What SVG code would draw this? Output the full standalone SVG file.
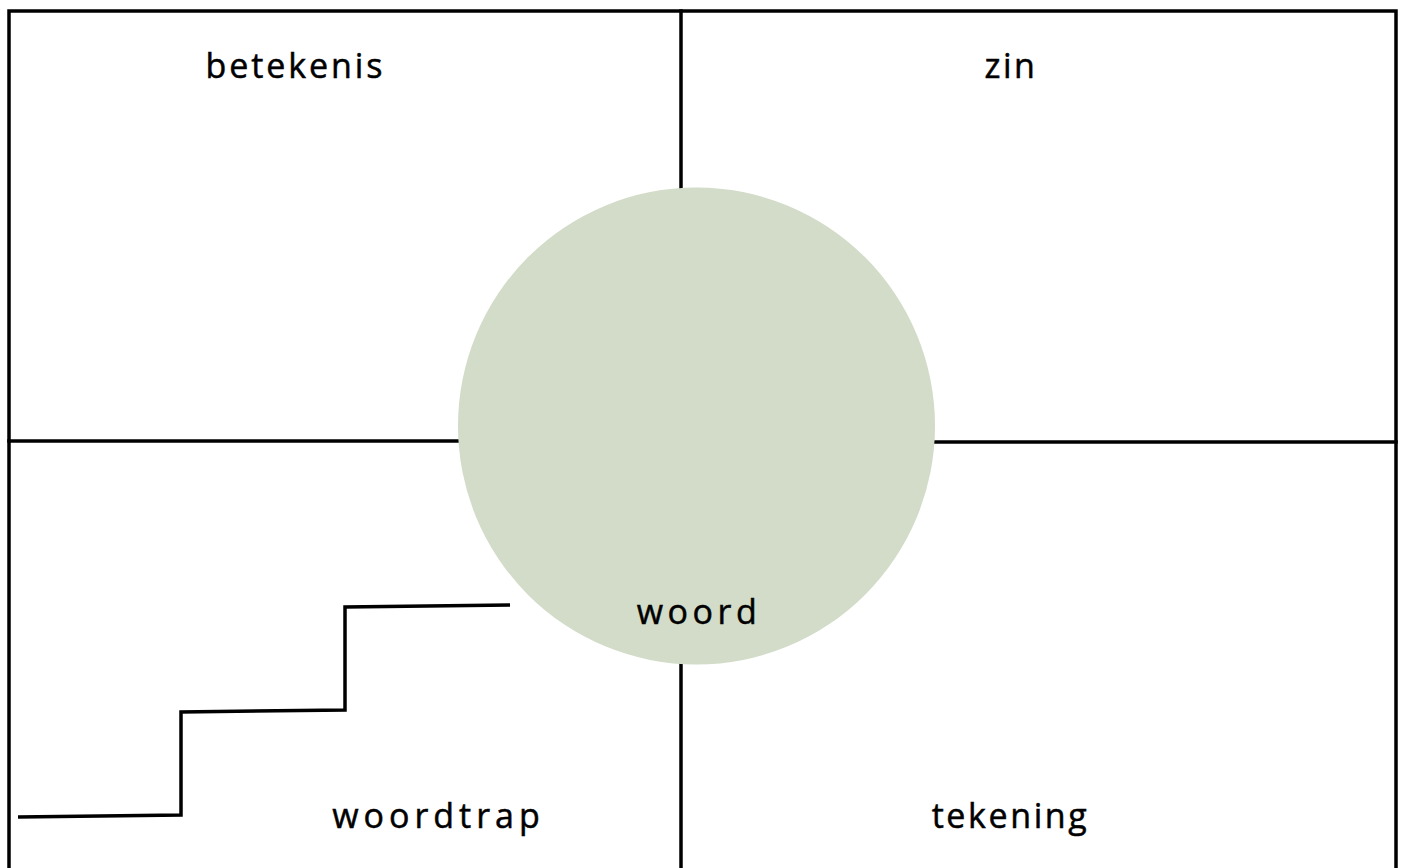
<svg xmlns="http://www.w3.org/2000/svg" width="1404" height="868" viewBox="0 0 1404 868">
<style>
.ln{fill:none;stroke:#000;stroke-width:3.5;stroke-linecap:square}
.t{font-family:"Open Sans","Liberation Sans",sans-serif;font-size:34px;fill:#000;stroke:#000;stroke-width:0.5;text-anchor:middle}
</style>
<rect width="1404" height="868" fill="#fff"/>
<g id="frame">
<rect class="ln" x="9" y="11" width="1387" height="870"/>
</g>
<g id="connectors">
<line class="ln" x1="681" y1="11" x2="681" y2="200"/>
<line class="ln" x1="681" y1="650" x2="681" y2="868"/>
<line class="ln" x1="9" y1="441" x2="470" y2="441"/>
<line class="ln" x1="920" y1="442" x2="1396" y2="442"/>
</g>
<g id="circle">
<circle cx="696.5" cy="426" r="238.5" fill="#d2dcc8"/>
</g>
<g id="stairs">
<polyline points="18,817 181,815 181,712 345,710 345,607 510,605" fill="none" stroke="#000" stroke-width="3.5"/>
</g>
<g id="labels">
<text class="t" x="295.5" y="78" letter-spacing="2.9">betekenis</text>
<text class="t" x="1011" y="78" letter-spacing="2.5">zin</text>
<text class="t" x="699" y="624" letter-spacing="4.5">woord</text>
<text class="t" x="438.5" y="828" letter-spacing="5">woordtrap</text>
<text class="t" x="1010.5" y="828" letter-spacing="2.6">tekening</text>
</g>
</svg>
